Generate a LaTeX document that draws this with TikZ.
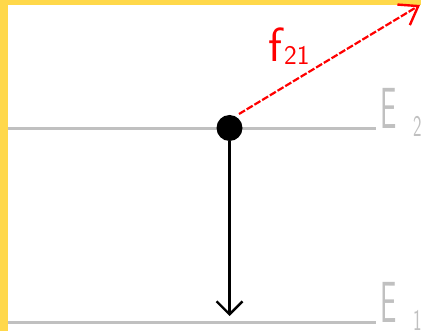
\documentclass[tikz,border=0pt]{standalone}
\usetikzlibrary{arrows.meta}
\definecolor{lvgray}{HTML}{C0C0C0}
\definecolor{edgeyellow}{HTML}{FFD84A}
\definecolor{phred}{HTML}{FF0000}
\begin{document}
\begin{tikzpicture}[x=1pt,y=-1pt,
  level/.style={draw=lvgray,line width=3pt},
  lvlabel/.style={text=lvgray,font=\sffamily\fontsize{58}{58}\selectfont,inner sep=0pt,anchor=base west,xscale=0.5},
  lvsub/.style={text=lvgray,font=\sffamily\fontsize{30}{30}\selectfont,inner sep=0pt,anchor=base west,xscale=0.6},
  dot/.style={circle,fill=black,minimum size=26pt,inner sep=0pt},
  flabel/.style={text=phred,font=\sffamily\fontsize{48}{48}\selectfont,inner sep=0pt,anchor=base west},
  fsub/.style={text=phred,font=\sffamily\fontsize{27}{27}\selectfont,inner sep=0pt,anchor=base west},
  frame/.style={fill=edgeyellow,draw=none}]
\fill[white] (0,0) rectangle (421,331);
\useasboundingbox (0,0) rectangle (421,331);
\path[frame] (0,0) rectangle (421,5);
\path[frame] (0,0) rectangle (8,331);
% levels
\coordinate (L2a) at (8,128.5); \coordinate (L2b) at (376,128.5);
\coordinate (L1a) at (8,322.5); \coordinate (L1b) at (376,322.5);
\draw[level] (L2a) -- (L2b);
\draw[level] (L1a) -- (L1b);
\node[lvlabel] (E2) at (380,129) {E};
\node[lvsub] (E2s) at (413,137) {2};
\node[lvlabel] (E1) at (380,323) {E};
\node[lvsub] (E1s) at (413,331) {1};
% atom
\node[dot] (atom) at (229.5,128) {};
\coordinate (down) at (229.5,316);
\draw[line width=2.4pt,-{Straight Barb[length=13pt,width=26pt,line width=2.4pt]}] (atom) -- (down);
% emitted photon
\coordinate (emit) at (239,114);
\coordinate (out) at (420,5);
\draw[phred,line width=2.2pt,dash pattern=on 7pt off 2pt,-{Straight Barb[length=17pt,width=24pt,line width=2.4pt]}] (emit) -- (out);
\node[flabel] (f) at (268,62) {f};
\node[fsub] (fs) at (284,65) {21};
\end{tikzpicture}
\end{document}
